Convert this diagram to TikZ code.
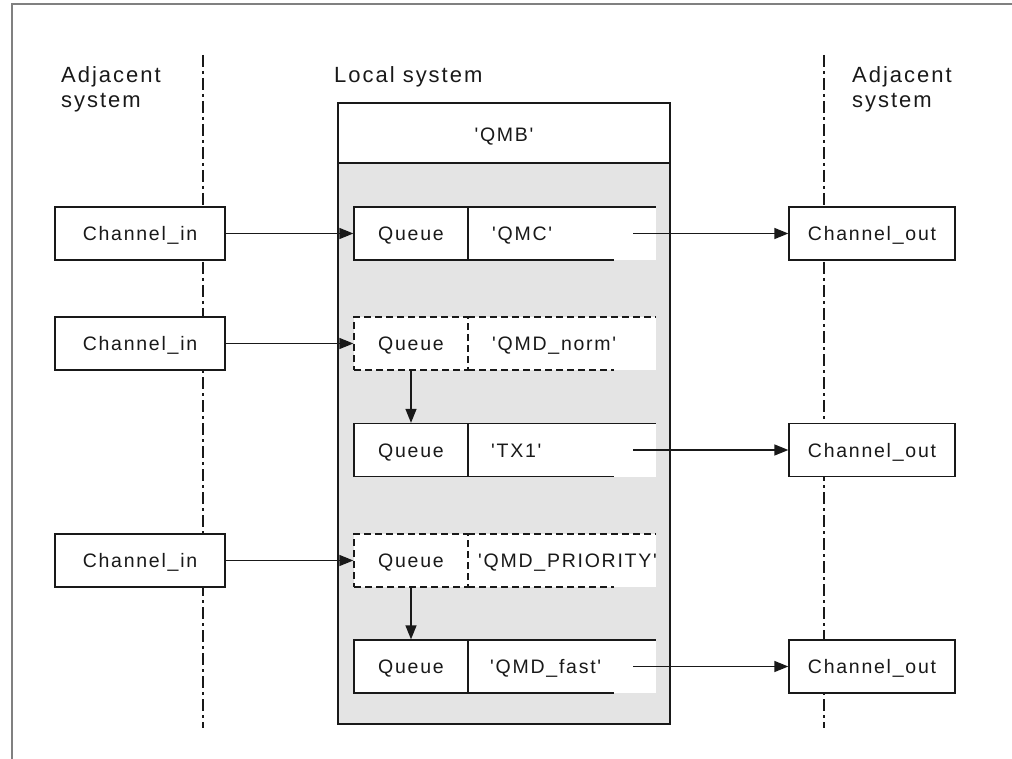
\documentclass[tikz,border=0pt]{standalone}
\usepackage{fontspec}
\newfontfamily\arial{Liberation Sans}[LetterSpace=9]
\usetikzlibrary{arrows.meta}
\definecolor{qbg}{RGB}{228,228,228}
\definecolor{ink}{RGB}{25,25,25}
\definecolor{frame}{RGB}{128,128,128}
\begin{document}
\begin{tikzpicture}[x=1pt,y=-1pt,
  box/.style={draw=ink, line width=1.3pt, fill=white, minimum height=53pt, inner sep=0pt, text height=14pt, text depth=0pt, text=ink, font=\arial\fontsize{19.5}{22}\selectfont},
  chin/.style={box, minimum width=170pt},
  chout/.style={box, minimum width=166pt},
  qcell/.style={box, minimum width=114pt},
  dq/.style={qcell, dash pattern=on 7pt off 4pt},
  qtext/.style={anchor=west, inner sep=0pt, text height=14pt, text depth=0pt, text=ink, font=\arial\fontsize{19.5}{22}\selectfont},
  arr/.style={draw=ink, line width=1.3pt, -{Triangle[length=14pt,width=11pt]}},
  sepline/.style={draw=ink, line width=1.2pt, dash pattern=on 12pt off 4pt on 3pt off 4pt},
  edge/.style={draw=ink, line width=1.3pt},
  dedge/.style={edge, dash pattern=on 7pt off 4pt},
  lbl/.style={font=\arial\fontsize{22}{25}\selectfont, text=ink, align=left, anchor=north west, inner sep=0pt}]
\useasboundingbox (0,0) rectangle (1012,759);
% frame
\draw[frame, line width=2pt] (1012,4) -- (12,4) -- (12,759);
% separators
\draw[sepline] (203,55) -- (203,728);
\draw[sepline] (824,55) -- (824,728);
% labels
\node[lbl] (la) at (61,66) {Adjacent\\system};
\node[lbl] (ll) at (334,66) {Local system};
\node[lbl] (ra) at (852,66) {Adjacent\\system};
% local system box
\fill[qbg] (338,163) rectangle (670,724);
\draw[edge] (338,103) rectangle (670,724);
\draw[edge] (338,163) -- (670,163);
\node[qtext, anchor=center] (qmb) at (504,135) {'QMB'};
% queue right cells
\foreach \t/\b/\s in {207/260/edge, 317/370/dedge, 423.5/476.5/edge, 534/587/dedge, 640/693/edge}{
  \fill[white] (468,\t) rectangle (656,\b);
  \draw[\s] (468,\t) -- (656,\t);
  \draw[\s] (468,\b) -- (614,\b);
}
% queue left cells
\node[qcell] (q1) at (411,233.5) {Queue};
\node[dq] (q2) at (411,343.5) {Queue};
\node[qcell] (q3) at (411,450) {Queue};
\node[dq] (q4) at (411,560.5) {Queue};
\node[qcell] (q5) at (411,666.5) {Queue};
% queue names
\node[qtext] (n1) at (492,233.5) {'QMC'};
\node[qtext] (n2) at (492,343.5) {'QMD\_norm'};
\node[qtext] (n3) at (491,450) {'TX1'};
\node[qtext] (n4) at (478,560.5) {'QMD\_PRIORITY'};
\node[qtext] (n5) at (490,666.5) {'QMD\_fast'};
% channels
\node[chin] (ci1) at (140,233.5) {Channel\_in};
\node[chin] (ci2) at (140,343.5) {Channel\_in};
\node[chin] (ci3) at (140,560.5) {Channel\_in};
\node[chout] (co1) at (872,233.5) {Channel\_out};
\node[chout] (co2) at (872,450) {Channel\_out};
\node[chout] (co3) at (872,666.5) {Channel\_out};
% arrows in
\draw[arr] (ci1.east) -- (q1.west);
\draw[arr] (ci2.east) -- (q2.west);
\draw[arr] (ci3.east) -- (q4.west);
% internal arrows
\draw[arr] (q2.south) -- (q3.north);
\draw[arr] (q4.south) -- (q5.north);
% arrows out
\coordinate (o1) at (633,233.5);
\coordinate (o3) at (633,450);
\coordinate (o5) at (633,666.5);
\draw[arr] (o1) -- (co1.west);
\draw[arr] (o3) -- (co2.west);
\draw[arr] (o5) -- (co3.west);
\end{tikzpicture}
\end{document}
